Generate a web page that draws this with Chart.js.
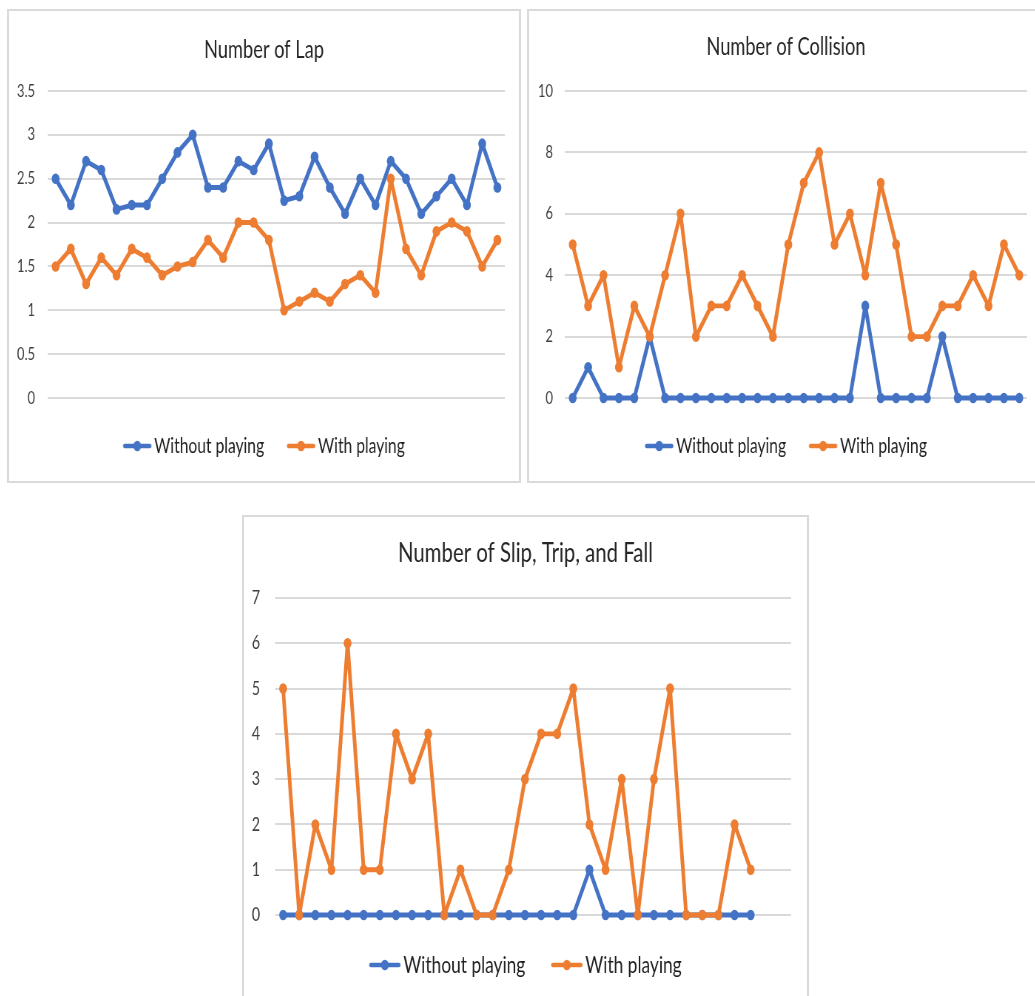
<!DOCTYPE html>
<html>
<head>
<meta charset="utf-8">
<script src="https://cdn.jsdelivr.net/npm/chart.js@4.4.1/dist/chart.umd.min.js"></script>
<style>
  html, body { margin: 0; padding: 0; background: #ffffff; width: 1035px; height: 996px; overflow: hidden; }
  .box { position: absolute; overflow: hidden; }
  .box canvas { position: absolute; left: 0; top: 0; transform-origin: 0 0; }
  .frame { position: absolute; left: 0; top: 0; right: 0; bottom: 0; border: 2px solid #dadada; box-sizing: border-box; pointer-events: none; }
</style>
</head>
<body>
<script>
// ---- data ----
const categories = ['1','2','3','4','5','6','7','8','9','10','11','12','13','14','15','16','17','18','19','20','21','22','23','24','25','26','27','28','29','30'];
const slipCategories = ['1','2','3','4','5','6','7','8','9','10','11','12','13','14','15','16','17','18','19','20','21','22','23','24','25','26','27','28','29','30','31','32'];
const seriesNames = ['Without playing', 'With playing'];

const lapWithout = [2.5, 2.2, 2.7, 2.6, 2.15, 2.2, 2.2, 2.5, 2.8, 3.0, 2.4, 2.4, 2.7, 2.6, 2.9, 2.25, 2.3, 2.75, 2.4, 2.1, 2.5, 2.2, 2.7, 2.5, 2.1, 2.3, 2.5, 2.2, 2.9, 2.4];
const lapWith    = [1.5, 1.7, 1.3, 1.6, 1.4, 1.7, 1.6, 1.4, 1.5, 1.55, 1.8, 1.6, 2.0, 2.0, 1.8, 1.0, 1.1, 1.2, 1.1, 1.3, 1.4, 1.2, 2.5, 1.7, 1.4, 1.9, 2.0, 1.9, 1.5, 1.8];

const collisionWithout = [0, 1, 0, 0, 0, 2, 0, 0, 0, 0, 0, 0, 0, 0, 0, 0, 0, 0, 0, 3, 0, 0, 0, 0, 2, 0, 0, 0, 0, 0];
const collisionWith    = [5, 3, 4, 1, 3, 2, 4, 6, 2, 3, 3, 4, 3, 2, 5, 7, 8, 5, 6, 4, 7, 5, 2, 2, 3, 3, 4, 3, 5, 4];

const slipWithout = [0, 0, 0, 0, 0, 0, 0, 0, 0, 0, 0, 0, 0, 0, 0, 0, 0, 0, 0, 1, 0, 0, 0, 0, 0, 0, 0, 0, 0, 0];
const slipWith    = [5, 0, 2, 1, 6, 1, 1, 4, 3, 4, 0, 1, 0, 0, 1, 3, 4, 4, 5, 2, 1, 3, 0, 3, 5, 0, 0, 0, 2, 1];

const titles = ['Number of Lap', 'Number of Collision', 'Number of Slip, Trip, and Fall'];
const lapTicks = { min: 0, max: 3.5, step: 0.5 };
const collisionTicks = { min: 0, max: 10, step: 2 };
const slipTicks = { min: 0, max: 7, step: 1 };

// ---- styling ----
const BLUE = '#4472C4';
const ORANGE = '#ED7D31';
const FONT = 'Lato, "Open Sans", sans-serif';
const SQ = 0.74; // horizontal squeeze of the reference picture

const measCtx = document.createElement('canvas').getContext('2d');
function fitSize(text, target) {
  measCtx.font = `normal 100px ${FONT}`;
  return 100 * target / measCtx.measureText(text).width;
}

function makeMarker(color, P, L) {
  const half = Math.max(P / 2, L - P / 2) + 2;
  const Wi = Math.ceil(half * 2);
  const c = document.createElement('canvas');
  c.width = Wi; c.height = 14;
  const g = c.getContext('2d');
  const a = Wi / 2 - P / 2;
  g.strokeStyle = color; g.lineWidth = 4.6; g.lineCap = 'round';
  g.beginPath(); g.moveTo(a + 2, 7); g.lineTo(a + L - 2, 7); g.stroke();
  g.fillStyle = color; g.beginPath(); g.arc(a + L / 2, 7, 5.2, 0, Math.PI * 2); g.fill();
  return c;
}

function makeChart(labels, title, withoutData, withData, ticks, geo) {
  const box = document.createElement('div');
  box.className = 'box';
  Object.assign(box.style, { left: geo.boxLeft + 'px', top: geo.boxTop + 'px', width: geo.boxW + 'px', height: geo.boxH + 'px' });
  const cv = document.createElement('canvas');
  const Wc = Math.round(geo.boxW / SQ);
  const H = geo.boxH;
  cv.width = Wc; cv.height = H;
  cv.style.width = Wc + 'px'; cv.style.height = H + 'px';
  cv.style.transform = `scaleX(${geo.boxW / Wc})`;
  box.appendChild(cv);
  const fr = document.createElement('div'); fr.className = 'frame'; box.appendChild(fr);
  document.body.appendChild(box);

  const titleSize = fitSize(title, geo.titleW / SQ);
  const legSize = fitSize(seriesNames[0], geo.legendW / SQ);
  const tickSize = fitSize(geo.tickText, geo.tickW / SQ);

  const legPad = geo.legendGap / SQ;
  const L = geo.markerLen / SQ;
  const textGap = 3 / SQ;
  const P = L + textGap - legSize / 2;
  const markers = [makeMarker(BLUE, P, L), makeMarker(ORANGE, P, L)];

  const plotTop = geo.plotTop - geo.boxTop;
  const plotBottom = geo.plotBottom - geo.boxTop;
  const titleCenter = geo.titleCenter - geo.boxTop;
  const legendCenter = geo.legendCenter - geo.boxTop;
  const legendTop = legendCenter - legPad - legSize / 2;
  const legendBottom = legendTop + legSize + legPad + 10;
  const xAxisH = legendTop - plotBottom;
  const titleLH = titleSize * 1.2;
  const titlePadTop = titleCenter - titleLH / 2;
  const titlePadBottom = plotTop - titlePadTop - titleLH;
  const rightW = (geo.boxLeft + geo.boxW - geo.plotRight) / SQ;
  const yWidth = (geo.plotLeft - geo.boxLeft) / SQ;
  const tickPad = (geo.plotLeft - geo.tickRight) / SQ;

  const ds = (label, data, color, order) => ({
    label, data, order,
    borderColor: color, backgroundColor: color,
    borderWidth: 4.9,
    borderJoinStyle: 'round', borderCapStyle: 'round',
    pointRadius: 5.3, pointHoverRadius: 5.3,
    pointBackgroundColor: color, pointBorderColor: color, pointBorderWidth: 0,
    pointStyle: 'circle', tension: 0, clip: false
  });

  return new Chart(cv.getContext('2d'), {
    type: 'line',
    data: {
      labels: labels,
      datasets: [ds(seriesNames[0], withoutData, BLUE, 1), ds(seriesNames[1], withData, ORANGE, 0)]
    },
    options: {
      responsive: false,
      devicePixelRatio: 1,
      animation: false,
      events: [],
      layout: { padding: { left: 0, right: 0, top: 0, bottom: H - legendBottom } },
      plugins: {
        title: {
          display: true, text: title,
          font: { family: FONT, size: titleSize, weight: 'normal', lineHeight: 1.2 },
          color: '#262626',
          padding: { top: titlePadTop, bottom: titlePadBottom }
        },
        legend: {
          position: 'bottom',
          labels: {
            font: { family: FONT, size: legSize },
            color: '#1f1f1f',
            padding: legPad,
            usePointStyle: true,
            pointStyleWidth: P,
            sort: (a, b) => a.datasetIndex - b.datasetIndex,
            generateLabels: (chart) => Chart.defaults.plugins.legend.labels.generateLabels(chart)
              .map(l => Object.assign(l, { pointStyle: markers[l.datasetIndex] }))
          }
        },
        tooltip: { enabled: false }
      },
      scales: {
        x: {
          offset: true,
          grid: { display: false },
          border: { display: false },
          ticks: { display: false },
          afterFit: (s) => { s.height = xAxisH; }
        },
        y: {
          min: ticks.min, max: ticks.max,
          grid: { color: '#d9d9d9', lineWidth: 2, drawTicks: false },
          border: { display: false },
          ticks: {
            stepSize: ticks.step,
            padding: tickPad,
            color: '#404040',
            font: { family: FONT, size: tickSize },
            callback: (v) => String(Number(v.toFixed(2)))
          },
          afterFit: (s) => { s.width = yWidth; }
        },
        yRight: {
          type: 'linear', axis: 'y', position: 'right',
          grid: { display: false, drawTicks: false },
          border: { display: false },
          ticks: { display: false },
          afterFit: (s) => { s.width = rightW; }
        }
      }
    }
  });
}

// geometry in page pixels (as seen in the reference)
makeChart(categories, titles[0], lapWithout, lapWith, lapTicks, {
  boxLeft: 7, boxTop: 9, boxW: 514, boxH: 474,
  plotLeft: 48, plotRight: 505, plotTop: 91, plotBottom: 398,
  titleCenter: 50, titleW: 120, legendCenter: 446, legendW: 110, legendGap: 23, markerLen: 28,
  tickRight: 35, tickText: '3.5', tickW: 18
});
makeChart(categories, titles[1], collisionWithout, collisionWith, collisionTicks, {
  boxLeft: 527, boxTop: 9, boxW: 518, boxH: 474,
  plotLeft: 565, plotRight: 1027, plotTop: 91, plotBottom: 398,
  titleCenter: 47, titleW: 159, legendCenter: 446, legendW: 110, legendGap: 23, markerLen: 28,
  tickRight: 553, tickText: '10', tickW: 15
});
makeChart(slipCategories, titles[2], slipWithout, slipWith, slipTicks, {
  boxLeft: 242, boxTop: 515, boxW: 567, boxH: 492,
  plotLeft: 275, plotRight: 791, plotTop: 598, plotBottom: 915,
  titleCenter: 553, titleW: 255, legendCenter: 965, legendW: 122, legendGap: 26, markerLen: 31,
  tickRight: 260, tickText: '10', tickW: 16.5
});
</script>
</body>
</html>
